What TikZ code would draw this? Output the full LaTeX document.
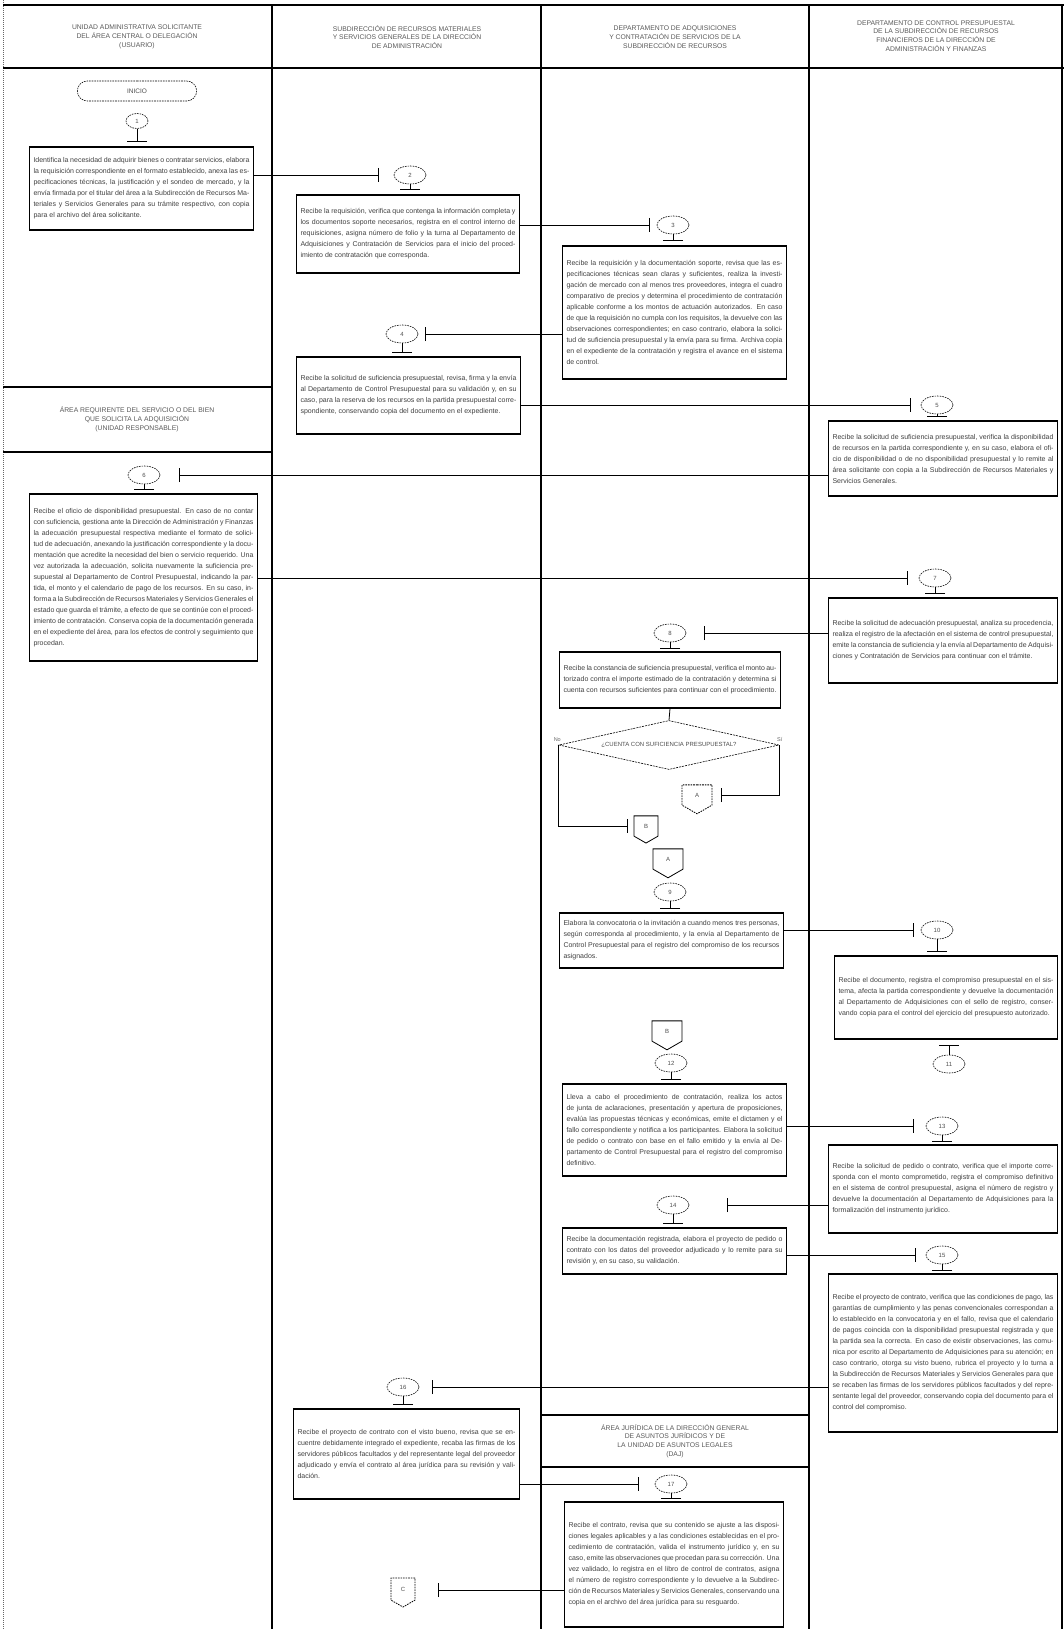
\documentclass[tikz,border=0pt]{standalone}
\usepackage{fontspec}
\newfontfamily\scanfont{Liberation Sans}
\usetikzlibrary{arrows.meta,shapes.geometric,shapes.symbols,shapes.misc}
\begin{document}
\begin{tikzpicture}[x=1pt,y=-1pt,
  lane/.style={line width=1.3pt},
  box/.style={draw, line width=1.2pt, inner xsep=4pt, inner ysep=2pt, align=justify,
    font=\scanfont\fontsize{7}{11}\selectfont, text=black!75},
  hdr/.style={align=center, font=\scanfont\fontsize{6.8}{8.8}\selectfont, text=black!65},
  conn/.style={draw, ellipse, dash pattern=on 1.6pt off 1pt, line width=0.6pt,
    minimum width=32pt, minimum height=18pt, inner sep=0pt,
    font=\scanfont\fontsize{6}{6}\selectfont, text=black!70},
  offpage/.style={draw, signal, signal to=south, signal pointer angle=120, line width=0.8pt,
    minimum width=28pt, minimum height=22pt, inner sep=1pt,
    font=\scanfont\fontsize{6}{6}\selectfont, text=black!70},
  flow/.style={line width=0.8pt, -{Bar[width=14pt]}},
  tee/.style={line width=0.9pt, -{Bar[width=20pt]}},
  plain/.style={line width=0.8pt},
  small/.style={font=\scanfont\fontsize{5.5}{5.5}\selectfont, text=black!60, inner sep=1pt}
]
\useasboundingbox (0,0) rectangle (1064,1629);

% ---------------- swimlane frame ----------------
\draw[line width=1pt, black!60, densely dotted] (3,0) -- (3,1629);
\draw[lane] (3,5) -- (1064,5);
\draw[lane] (3,68) -- (1064,68);
\draw[lane] (272,5) -- (272,1629);
\draw[lane] (541,5) -- (541,1629);
\draw[lane] (809,5) -- (809,1629);
\draw[lane] (1062,5) -- (1062,1629);
\draw[lane] (3,387) -- (272,387);
\draw[lane] (3,452) -- (272,452);
\draw[lane] (541,1415) -- (809,1415);
\draw[lane] (541,1467) -- (809,1467);

% ---------------- lane headers ----------------
\node[hdr] (h1) at (137,37) {UNIDAD ADMINISTRATIVA SOLICITANTE\\DEL ÁREA CENTRAL O DELEGACIÓN\\(USUARIO)};
\node[hdr] (h2) at (407,37) {SUBDIRECCIÓN DE RECURSOS MATERIALES\\Y SERVICIOS GENERALES DE LA DIRECCIÓN\\DE ADMINISTRACIÓN};
\node[hdr] (h3) at (675,37) {DEPARTAMENTO DE ADQUISICIONES\\Y CONTRATACIÓN DE SERVICIOS DE LA\\SUBDIRECCIÓN DE RECURSOS};
\node[hdr] (h4) at (936,36) {DEPARTAMENTO DE CONTROL PRESUPUESTAL\\DE LA SUBDIRECCIÓN DE RECURSOS\\FINANCIEROS DE LA DIRECCIÓN DE\\ADMINISTRACIÓN Y FINANZAS};
\node[hdr] (h5) at (137,419) {ÁREA REQUIRENTE DEL SERVICIO O DEL BIEN\\QUE SOLICITA LA ADQUISICIÓN\\(UNIDAD RESPONSABLE)};
\node[hdr] (h6) at (675,1441) {ÁREA JURÍDICA DE LA DIRECCIÓN GENERAL\\DE ASUNTOS JURÍDICOS Y DE\\LA UNIDAD DE ASUNTOS LEGALES\\(DAJ)};

% ---------------- start ----------------
\node[draw, rounded rectangle, dash pattern=on 1.6pt off 1pt, line width=0.6pt,
  minimum width=126pt, minimum height=20pt, font=\scanfont\fontsize{6.5}{6.5}\selectfont, text=black!70] (start) at (137,91) {INICIO};
\node[conn, minimum width=22pt, minimum height=15pt] (c1) at (137,121) {1};

% ---------------- process boxes ----------------
\node[box, text width=216pt, minimum height=83pt] (b1) at (141.5,188.5) {Identifica la necesidad de adquirir bienes o contratar servicios, elabora la requisición correspondiente en el formato establecido, anexa las especificaciones técnicas, la justificación y el sondeo de mercado, y la envía firmada por el titular del área a la Subdirección de Recursos Materiales y Servicios Generales para su trámite respectivo, con copia para el archivo del área solicitante.};

\node[box, text width=215pt, minimum height=78pt] (b2) at (408,234) {Recibe la requisición, verifica que contenga la información completa y los documentos soporte necesarios, registra en el control interno de requisiciones, asigna número de folio y la turna al Departamento de Adquisiciones y Contratación de Servicios para el inicio del procedimiento de contratación que corresponda.};

\node[box, text width=216pt, minimum height=133pt] (b3) at (674.5,312.5) {Recibe la requisición y la documentación soporte, revisa que las especificaciones técnicas sean claras y suficientes, realiza la investigación de mercado con al menos tres proveedores, integra el cuadro comparativo de precios y determina el procedimiento de contratación aplicable conforme a los montos de actuación autorizados. En caso de que la requisición no cumpla con los requisitos, la devuelve con las observaciones correspondientes; en caso contrario, elabora la solicitud de suficiencia presupuestal y la envía para su firma. Archiva copia en el expediente de la contratación y registra el avance en el sistema de control.};

\node[box, text width=216pt, minimum height=77pt] (b4) at (408.5,395.5) {Recibe la solicitud de suficiencia presupuestal, revisa, firma y la envía al Departamento de Control Presupuestal para su validación y, en su caso, para la reserva de los recursos en la partida presupuestal correspondiente, conservando copia del documento en el expediente.};

\node[box, text width=221pt, minimum height=75pt] (b5) at (943,458.5) {Recibe la solicitud de suficiencia presupuestal, verifica la disponibilidad de recursos en la partida correspondiente y, en su caso, elabora el oficio de disponibilidad o de no disponibilidad presupuestal y lo remite al área solicitante con copia a la Subdirección de Recursos Materiales y Servicios Generales.};

\node[box, text width=220pt, minimum height=167pt] (b6) at (143.5,577.5) {Recibe el oficio de disponibilidad presupuestal. En caso de no contar con suficiencia, gestiona ante la Dirección de Administración y Finanzas la adecuación presupuestal respectiva mediante el formato de solicitud de adecuación, anexando la justificación correspondiente y la documentación que acredite la necesidad del bien o servicio requerido. Una vez autorizada la adecuación, solicita nuevamente la suficiencia presupuestal al Departamento de Control Presupuestal, indicando la partida, el monto y el calendario de pago de los recursos. En su caso, informa a la Subdirección de Recursos Materiales y Servicios Generales el estado que guarda el trámite, a efecto de que se continúe con el procedimiento de contratación. Conserva copia de la documentación generada en el expediente del área, para los efectos de control y seguimiento que procedan.};

\node[box, text width=221pt, minimum height=85pt] (b7) at (943,640.5) {Recibe la solicitud de adecuación presupuestal, analiza su procedencia, realiza el registro de la afectación en el sistema de control presupuestal, emite la constancia de suficiencia y la envía al Departamento de Adquisiciones y Contratación de Servicios para continuar con el trámite.};

\node[box, text width=213pt, minimum height=56pt] (b8) at (670,680) {Recibe la constancia de suficiencia presupuestal, verifica el monto autorizado contra el importe estimado de la contratación y determina si cuenta con recursos suficientes para continuar con el procedimiento.};

\node[diamond, draw, dash pattern=on 2pt off 1pt, line width=0.6pt, minimum width=220pt, minimum height=49pt, inner sep=0pt,
  label={[font=\scanfont\fontsize{6}{6}\selectfont, text=black!70]center:¿CUENTA CON SUFICIENCIA PRESUPUESTAL?}] (d) at (669,745) {};
\node[small, anchor=south east] (dno) at (562,743) {No};
\node[small, anchor=south west] (dsi) at (776,743) {Sí};

\node[box, text width=216pt, minimum height=55pt] (b9) at (671.5,940.5) {Elabora la convocatoria o la invitación a cuando menos tres personas, según corresponda al procedimiento, y la envía al Departamento de Control Presupuestal para el registro del compromiso de los recursos asignados.};

\node[box, text width=215pt, minimum height=83pt] (b10) at (946,997.5) {Recibe el documento, registra el compromiso presupuestal en el sistema, afecta la partida correspondiente y devuelve la documentación al Departamento de Adquisiciones con el sello de registro, conservando copia para el control del ejercicio del presupuesto autorizado.};

\node[box, text width=216pt, minimum height=92pt] (b12) at (674.5,1130) {Lleva a cabo el procedimiento de contratación, realiza los actos de junta de aclaraciones, presentación y apertura de proposiciones, evalúa las propuestas técnicas y económicas, emite el dictamen y el fallo correspondiente y notifica a los participantes. Elabora la solicitud de pedido o contrato con base en el fallo emitido y la envía al Departamento de Control Presupuestal para el registro del compromiso definitivo.};

\node[box, text width=221pt, minimum height=88pt] (b13) at (943,1189) {Recibe la solicitud de pedido o contrato, verifica que el importe corresponda con el monto comprometido, registra el compromiso definitivo en el sistema de control presupuestal, asigna el número de registro y devuelve la documentación al Departamento de Adquisiciones para la formalización del instrumento jurídico.};

\node[box, text width=216pt, minimum height=46pt] (b14) at (674.5,1251) {Recibe la documentación registrada, elabora el proyecto de pedido o contrato con los datos del proveedor adjudicado y lo remite para su revisión y, en su caso, su validación.};

\node[box, text width=221pt, minimum height=158pt] (b15) at (943,1353) {Recibe el proyecto de contrato, verifica que las condiciones de pago, las garantías de cumplimiento y las penas convencionales correspondan a lo establecido en la convocatoria y en el fallo, revisa que el calendario de pagos coincida con la disponibilidad presupuestal registrada y que la partida sea la correcta. En caso de existir observaciones, las comunica por escrito al Departamento de Adquisiciones para su atención; en caso contrario, otorga su visto bueno, rubrica el proyecto y lo turna a la Subdirección de Recursos Materiales y Servicios Generales para que se recaben las firmas de los servidores públicos facultados y del representante legal del proveedor, conservando copia del documento para el control del compromiso.};

\node[box, text width=218pt, minimum height=90pt] (b16) at (406.5,1454) {Recibe el proyecto de contrato con el visto bueno, revisa que se encuentre debidamente integrado el expediente, recaba las firmas de los servidores públicos facultados y del representante legal del proveedor adjudicado y envía el contrato al área jurídica para su revisión y validación.};

\node[box, text width=211pt, minimum height=125pt] (b17) at (674,1564.5) {Recibe el contrato, revisa que su contenido se ajuste a las disposiciones legales aplicables y a las condiciones establecidas en el procedimiento de contratación, valida el instrumento jurídico y, en su caso, emite las observaciones que procedan para su corrección. Una vez validado, lo registra en el libro de control de contratos, asigna el número de registro correspondiente y lo devuelve a la Subdirección de Recursos Materiales y Servicios Generales, conservando una copia en el archivo del área jurídica para su resguardo.};

% ---------------- connector circles ----------------
\node[conn] (c2) at (410,175) {2};
\node[conn] (c3) at (673,225) {3};
\node[conn] (c4) at (402,334) {4};
\node[conn] (c5) at (937,405) {5};
\node[conn] (c6) at (144,475) {6};
\node[conn] (c7) at (935,578) {7};
\node[conn] (c8) at (670,633) {8};
\node[conn] (c9) at (670,892) {9};
\node[conn] (c10) at (937,930) {10};
\node[conn] (c11) at (949,1064) {11};
\node[conn] (c12) at (671,1063) {12};
\node[conn] (c13) at (942,1126) {13};
\node[conn] (c14) at (673,1205) {14};
\node[conn] (c15) at (942,1255) {15};
\node[conn] (c16) at (403,1387) {16};
\node[conn] (c17) at (671,1484) {17};

% ---------------- off-page connectors ----------------
\node[offpage, minimum width=24pt, minimum height=22pt] (pB1) at (646,826) {B};
\node[offpage, dash pattern=on 1.6pt off 1pt, minimum width=30pt, minimum height=22pt] (pA1) at (697,795) {A};
\node[offpage, minimum width=30pt, minimum height=22pt] (pA2) at (668,859) {A};
\node[offpage, minimum width=30pt, minimum height=22pt] (pB2) at (667,1031) {B};
\node[offpage, dash pattern=on 1.6pt off 1pt, minimum width=24pt, minimum height=24pt] (pC) at (403,1589) {C};

% ---------------- bar end points ----------------
\coordinate (k2) at (379,175);
\coordinate (k3) at (650,225);
\coordinate (k4) at (425,334);
\coordinate (k5) at (911,405);
\coordinate (k6) at (179,475);
\coordinate (k7) at (908,578);
\coordinate (k8) at (704,633);
\coordinate (k10) at (914,930);
\coordinate (k13) at (914,1126);
\coordinate (k14) at (727,1205);
\coordinate (k15) at (916,1255);
\coordinate (k16) at (432,1387);
\coordinate (k17) at (639,1484);
\coordinate (kB1) at (628,826);
\coordinate (kA1) at (721,795);
\coordinate (kC) at (438,1590);

% ---------------- flow lines ----------------
\draw[flow] (b1.east |- k2) -- (k2);
\draw[flow] (b2.east |- k3) -- (k3);
\draw[flow] (b3.west |- k4) -- (k4);
\draw[flow] (b4.east |- k5) -- (k5);
\draw[flow] (b5.west |- k6) -- (k6);
\draw[flow] (b6.east |- k7) -- (k7);
\draw[flow] (b7.west |- k8) -- (k8);
\draw[plain] (b8.south) -- (d.north);
\draw[flow] (d.west) -- (d.west |- kB1) -- (kB1);
\draw[flow] (d.east) -- (d.east |- kA1) -- (kA1);
\draw[flow] (b9.east |- k10) -- (k10);
\draw[flow] (b12.east |- k13) -- (k13);
\draw[flow] (b13.west |- k14) -- (k14);
\draw[flow] (b14.east |- k15) -- (k15);
\draw[flow] (b15.west |- k16) -- (k16);
\draw[flow] (b16.east |- k17) -- (k17);
\draw[flow] (b17.west |- kC) -- (kC);

% ---------------- T links from circles to boxes ----------------
\draw[tee] (c1.south) -- ([yshift=4pt]c1.south |- b1.north);
\draw[tee] (c2.south) -- ([yshift=4pt]c2.south |- b2.north);
\draw[tee] (c3.south) -- ([yshift=4pt]c3.south |- b3.north);
\draw[tee] (c4.south) -- ([yshift=4pt]c4.south |- b4.north);
\draw[tee] (c5.south) -- ([yshift=4pt]c5.south |- b5.north);
\draw[tee] (c6.south) -- ([yshift=4pt]c6.south |- b6.north);
\draw[tee] (c7.south) -- ([yshift=4pt]c7.south |- b7.north);
\draw[tee] (c8.south) -- ([yshift=3pt]c8.south |- b8.north);
\draw[tee] (c9.south) -- ([yshift=4pt]c9.south |- b9.north);
\draw[tee] (c10.south) -- ([yshift=4pt]c10.south |- b10.north);
\draw[tee] (c11.north) -- ([yshift=-5pt]c11.north |- b10.south);
\draw[tee] (c12.south) -- ([yshift=4pt]c12.south |- b12.north);
\draw[tee] (c13.south) -- ([yshift=3pt]c13.south |- b13.north);
\draw[tee] (c14.south) -- ([yshift=4pt]c14.south |- b14.north);
\draw[tee] (c15.south) -- ([yshift=3pt]c15.south |- b15.north);
\draw[tee] (c16.south) -- ([yshift=4pt]c16.south |- b16.north);
\draw[tee] (c17.south) -- ([yshift=3pt]c17.south |- b17.north);
\end{tikzpicture}
\end{document}
